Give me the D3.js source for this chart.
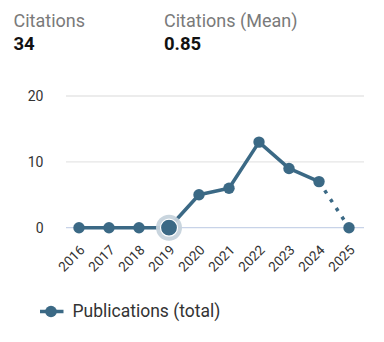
<!DOCTYPE html>
<html>
<head>
<meta charset="utf-8">
<script src="https://cdn.jsdelivr.net/npm/d3@7"></script>
<style>
  html, body { margin: 0; padding: 0; background: #fff; }
  body { width: 384px; height: 342px; overflow: hidden; font-family: Roboto, "Noto Sans", sans-serif; }
</style>
</head>
<body>
<svg id="chart" width="384" height="342"></svg>
<script>
// Yearly publication counts
const years = ["2016", "2017", "2018", "2019", "2020", "2021", "2022", "2023", "2024", "2025"];
const publications = [0, 0, 0, 0, 5, 6, 13, 9, 7, 0];
const yTicks = [0, 10, 20];
const highlightYear = "2019";
// The last segment (current, incomplete year) is drawn dotted
const partialYear = "2025";

const summaryLabels = ["Citations", "Citations (Mean)"];
const summaryValues = ["34", "0.85"];
const legendLabel = "Publications (total)";

const color = "#3b6985";
const svg = d3.select("#chart");

// Summary stats header
const summaryX = [13.5, 164];
summaryLabels.forEach((t, i) => {
  svg.append("text").attr("x", summaryX[i]).attr("y", 26.5)
    .attr("font-size", 18).attr("fill", "#7a7a7a").text(t);
  svg.append("text").attr("x", summaryX[i]).attr("y", 50)
    .attr("font-size", 18.5).attr("font-weight", "bold").attr("fill", "#111").text(summaryValues[i]);
});

const x = d3.scalePoint().domain(years).range([79, 349]);
const y = d3.scaleLinear().domain([0, 20]).range([227.7, 96]);
const gridLeft = 66, gridRight = 364;

// Gridlines
svg.append("g").selectAll("line").data(yTicks).join("line")
  .attr("x1", gridLeft).attr("x2", gridRight)
  .attr("y1", d => y(d)).attr("y2", d => y(d))
  .attr("stroke", d => d === 0 ? "#c8d3e8" : "#e6e6e6")
  .attr("stroke-width", 1.3);

// Y axis labels
svg.append("g").selectAll("text").data(yTicks).join("text")
  .attr("x", 43.5).attr("y", d => y(d) + 5)
  .attr("text-anchor", "end").attr("font-size", 14).attr("fill", "#333")
  .text(d => d);

// X axis labels, rotated
svg.append("g").selectAll("text").data(years).join("text")
  .attr("transform", d => `translate(${x(d) + 6.5},${251}) rotate(-45)`)
  .attr("text-anchor", "end").attr("font-size", 13.5).attr("fill", "#333")
  .text(d => d);

const pts = years.map((yr, i) => ({ year: yr, value: publications[i] }));
const solidPts = pts.filter(p => p.year !== partialYear);
const dotPts = pts.slice(pts.length - 2);

const line = d3.line().x(d => x(d.year)).y(d => y(d.value));

svg.append("path").datum(solidPts).attr("d", line)
  .attr("fill", "none").attr("stroke", color).attr("stroke-width", 3.5)
  .attr("stroke-linejoin", "round");
svg.append("path").datum(dotPts).attr("d", line)
  .attr("fill", "none").attr("stroke", color).attr("stroke-width", 3.5)
  .attr("stroke-dasharray", "3.5,7");

// Markers
const hi = pts.find(p => p.year === highlightYear);
svg.append("circle").attr("cx", x(hi.year)).attr("cy", y(hi.value))
  .attr("r", 13).attr("fill", "#c6d3dc").attr("opacity", 0.95);

svg.append("g").selectAll("circle").data(pts).join("circle")
  .attr("cx", d => x(d.year)).attr("cy", d => y(d.value))
  .attr("r", d => d.year === highlightYear ? 8.5 : 5.7)
  .attr("fill", color)
  .attr("stroke", d => d.year === highlightYear ? "#fff" : "none")
  .attr("stroke-width", 1.2);

// Legend
const ly = 311.5;
svg.append("line").attr("x1", 40).attr("x2", 63.5).attr("y1", ly).attr("y2", ly)
  .attr("stroke", color).attr("stroke-width", 3.5);
svg.append("circle").attr("cx", 51).attr("cy", ly).attr("r", 5.8).attr("fill", color);
svg.append("text").attr("x", 72.5).attr("y", 317.3)
  .attr("font-size", 17.5).attr("fill", "#333").text(legendLabel);
</script>
</body>
</html>
